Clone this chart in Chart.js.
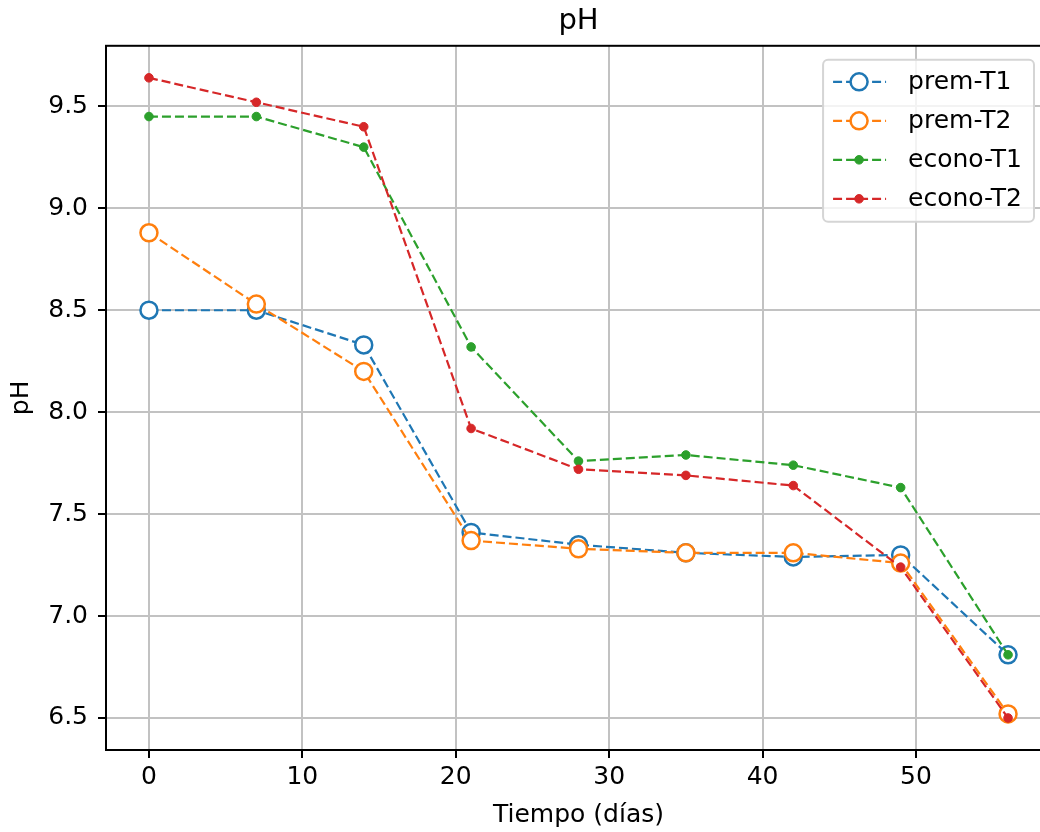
<!DOCTYPE html>
<html>
<head>
<meta charset="utf-8">
<script src="https://cdn.jsdelivr.net/npm/chart.js@4/dist/chart.umd.min.js"></script>
<style>
  html, body { margin: 0; padding: 0; background: #fff; overflow: hidden; }
  #wrap { width: 1062px; height: 832px; }
</style>
</head>
<body>
<div id="wrap"><canvas id="myChart" width="1062" height="832"></canvas></div>
<script>
// dias de muestreo
var dias = [0, 7, 14, 21, 28, 35, 42, 49, 56];

var premT1 = [8.50, 8.50, 8.33, 7.41, 7.35, 7.31, 7.29, 7.30, 6.81];
var premT2 = [8.88, 8.53, 8.20, 7.37, 7.33, 7.31, 7.31, 7.26, 6.52];
var econoT1 = [9.45, 9.45, 9.30, 8.32, 7.76, 7.79, 7.74, 7.63, 6.81];
var econoT2 = [9.64, 9.52, 9.40, 7.92, 7.72, 7.69, 7.64, 7.24, 6.50];

var xTicks = [0, 10, 20, 30, 40, 50];
var yTicks = [6.5, 7.0, 7.5, 8.0, 8.5, 9.0, 9.5];

var font = "'DejaVu Sans', sans-serif";
var dash = [9, 4];

function pts(vals) {
  return vals.map((v, i) => ({ x: dias[i], y: v }));
}

function serie(label, vals, color, open, order) {
  return {
    label: label,
    data: pts(vals),
    borderColor: color,
    backgroundColor: open ? '#ffffff' : color,
    pointBackgroundColor: open ? '#ffffff' : color,
    pointBorderColor: color,
    pointBorderWidth: open ? 2.5 : 1,
    pointRadius: open ? 8.5 : 4.3,
    pointHoverRadius: open ? 8.5 : 4.3,
    borderWidth: 2.2,
    borderDash: dash,
    tension: 0,
    order: order,
    _open: open
  };
}

// marco completo del area (spines) + leyenda dentro
var frame = {
  id: 'frame',
  afterDraw(chart) {
    var ctx = chart.ctx, a = chart.chartArea;
    ctx.save();
    ctx.strokeStyle = '#000';
    ctx.lineWidth = 2;
    ctx.strokeRect(a.left, a.top, a.right - a.left, a.bottom - a.top);

    // leyenda
    ctx.font = '25px ' + font;
    var ds = chart.data.datasets;
    var w = 0;
    ds.forEach(d => { w = Math.max(w, ctx.measureText(d.label).width); });
    var bw = 85 + w + 12, bh = 162;
    var bx = a.right - 17 - bw, by = a.top + 14;
    ctx.beginPath();
    ctx.roundRect(bx, by, bw, bh, 5);
    ctx.fillStyle = 'rgba(255,255,255,0.8)';
    ctx.fill();
    ctx.strokeStyle = '#d5d5d5';
    ctx.lineWidth = 2;
    ctx.stroke();
    ds.forEach((d, i) => {
      var yy = by + 22 + i * 39;
      ctx.strokeStyle = d.borderColor;
      ctx.lineWidth = 2.2;
      ctx.setLineDash(dash);
      ctx.beginPath();
      ctx.moveTo(bx + 10, yy);
      ctx.lineTo(bx + 63, yy);
      ctx.stroke();
      ctx.setLineDash([]);
      ctx.beginPath();
      ctx.arc(bx + 36, yy, d._open ? 8.5 : 4.3, 0, Math.PI * 2);
      ctx.fillStyle = d._open ? '#fff' : d.borderColor;
      ctx.fill();
      ctx.lineWidth = d._open ? 2.5 : 1;
      ctx.stroke();
      ctx.fillStyle = '#000';
      ctx.textBaseline = 'middle';
      ctx.fillText(d.label, bx + 85, yy + 1);
    });
    ctx.restore();
  }
};

var ctx = document.getElementById('myChart').getContext('2d');
var chart = new Chart(ctx, {
  type: 'line',
  data: {
    datasets: [
      serie('prem-T1', premT1, '#1f77b4', true, 4),
      serie('prem-T2', premT2, '#ff7f0e', true, 3),
      serie('econo-T1', econoT1, '#2ca02c', false, 2),
      serie('econo-T2', econoT2, '#d62728', false, 1)
    ]
  },
  options: {
    responsive: false,
    animation: false,
    layout: { padding: { left: 0, right: 10, top: 0, bottom: 0 } },
    plugins: {
      legend: { display: false },
      tooltip: { enabled: false },
      title: {
        display: true,
        fullSize: false,
        text: 'pH',
        color: '#000',
        font: { family: font, size: 29, weight: 'normal', lineHeight: 1.2 },
        padding: { top: 4, bottom: 7 }
      }
    },
    scales: {
      x: {
        type: 'linear',
        min: -2.8,
        max: 58.8,
        afterBuildTicks: s => { s.ticks = xTicks.map(v => ({ value: v })); },
        afterFit: s => { s.height = 82; },
        ticks: { color: '#000', font: { family: font, size: 25 }, padding: 4, maxRotation: 0 },
        grid: { color: '#c2c2c2', lineWidth: 2, tickColor: '#000', tickLength: 8, tickWidth: 2 },
        border: { color: '#000', width: 2 },
        title: { display: true, text: 'Tiempo (días)', color: '#000', font: { family: font, size: 25 }, padding: { top: 0, bottom: 2 } }
      },
      y: {
        type: 'linear',
        min: 6.343,
        max: 9.797,
        afterBuildTicks: s => { s.ticks = yTicks.map(v => ({ value: v })); },
        afterFit: s => { s.width = 106; },
        ticks: { color: '#000', font: { family: font, size: 25 }, padding: 10, callback: v => v.toFixed(1) },
        grid: { color: '#c2c2c2', lineWidth: 2, tickColor: '#000', tickLength: 8, tickWidth: 2 },
        border: { color: '#000', width: 2 },
        title: { display: true, text: 'pH', color: '#000', font: { family: font, size: 25 }, padding: { top: 6, bottom: 0 } }
      }
    }
  },
  plugins: [frame]
});
</script>
</body>
</html>
